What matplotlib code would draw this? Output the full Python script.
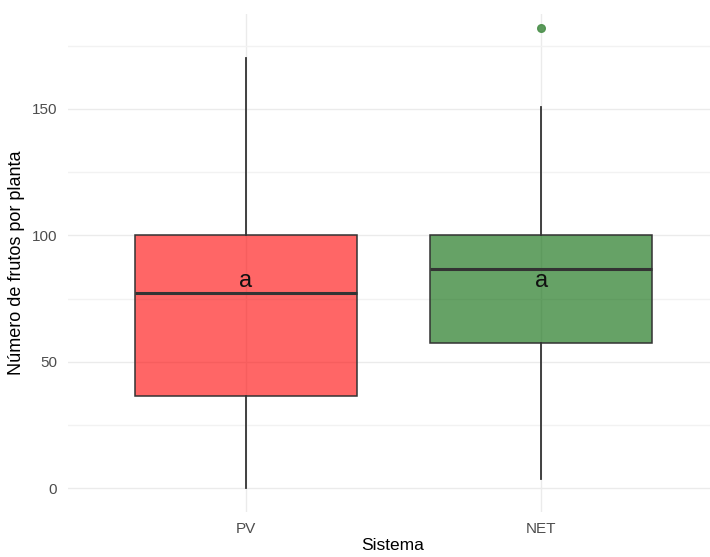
import matplotlib
matplotlib.use("Agg")
import matplotlib.pyplot as plt

# ---------------------------------------------------------------------------
# Data
# ---------------------------------------------------------------------------
sistemas = ["PV", "NET"]
whis_lo  = [0.0, 3.6]
q1       = [36.6, 57.5]
medians  = [77.0, 86.6]
q3       = [100.1, 100.2]
whis_hi  = [170.0, 150.8]
outliers = [[], [182.1]]
letras   = ["a", "a"]
letra_y  = [81.8, 81.8]

fill_colors = [(1.0, 0.0, 0.0, 0.6), (0.0, 0.392, 0.0, 0.6)]
flier_color = "#4a8f4a"

plt.rcParams["font.family"] = ["Liberation Sans", "DejaVu Sans"]

fig = plt.figure(figsize=(7.10, 5.57), dpi=100)
ax = fig.add_axes([68 / 710, 45 / 557, 651 / 710, 498 / 557])

stats = []
for i, name in enumerate(sistemas):
    stats.append(dict(label=name, whislo=whis_lo[i], q1=q1[i], med=medians[i],
                      q3=q3[i], whishi=whis_hi[i], fliers=outliers[i]))

positions = list(range(1, len(sistemas) + 1))
bp = ax.bxp(stats, positions=positions, widths=0.75, patch_artist=True,
            showcaps=False,
            boxprops=dict(edgecolor="#333333", linewidth=1.1),
            whiskerprops=dict(color="#333333", linewidth=1.3),
            medianprops=dict(color="#333333", linewidth=2.2),
            flierprops=dict(marker="o", markersize=5.5, markerfacecolor=flier_color,
                            markeredgecolor=flier_color, alpha=0.9),
            zorder=3)
for patch, c in zip(bp["boxes"], fill_colors):
    patch.set_facecolor(c)

for x, txt, y in zip(positions, letras, letra_y):
    ax.text(x, y, txt, ha="center", va="center", fontsize=17, color="#111111", zorder=5)

# theme_minimal style
ax.set_xlim(0.4, 2.6)
ax.set_ylim(-9.4, 187.5)
ax.set_yticks([0, 50, 100, 150])
ax.set_yticks([25, 75, 125, 175], minor=True)
ax.set_xticks(positions)
ax.set_xticklabels(sistemas)
for s in ax.spines.values():
    s.set_visible(False)
ax.grid(True, which="major", color="#EBEBEB", linewidth=1.0, zorder=0)
ax.grid(True, which="minor", axis="y", color="#F2F2F2", linewidth=1.0, zorder=0)
ax.set_axisbelow(True)
ax.tick_params(axis="both", which="both", length=0, labelsize=11, labelcolor="#4D4D4D")
ax.tick_params(axis="y", pad=8)
ax.tick_params(axis="x", pad=7)

ax.set_xlabel("Sistema", fontsize=12.5, color="black")
ax.set_ylabel("Número de frutos por planta", fontsize=13, color="black")
ax.xaxis.set_label_coords((393 - 68) / 651, -0.053)
ax.yaxis.set_label_coords(-43 / 651, 0.5)

fig.savefig("out.png", dpi=100)
